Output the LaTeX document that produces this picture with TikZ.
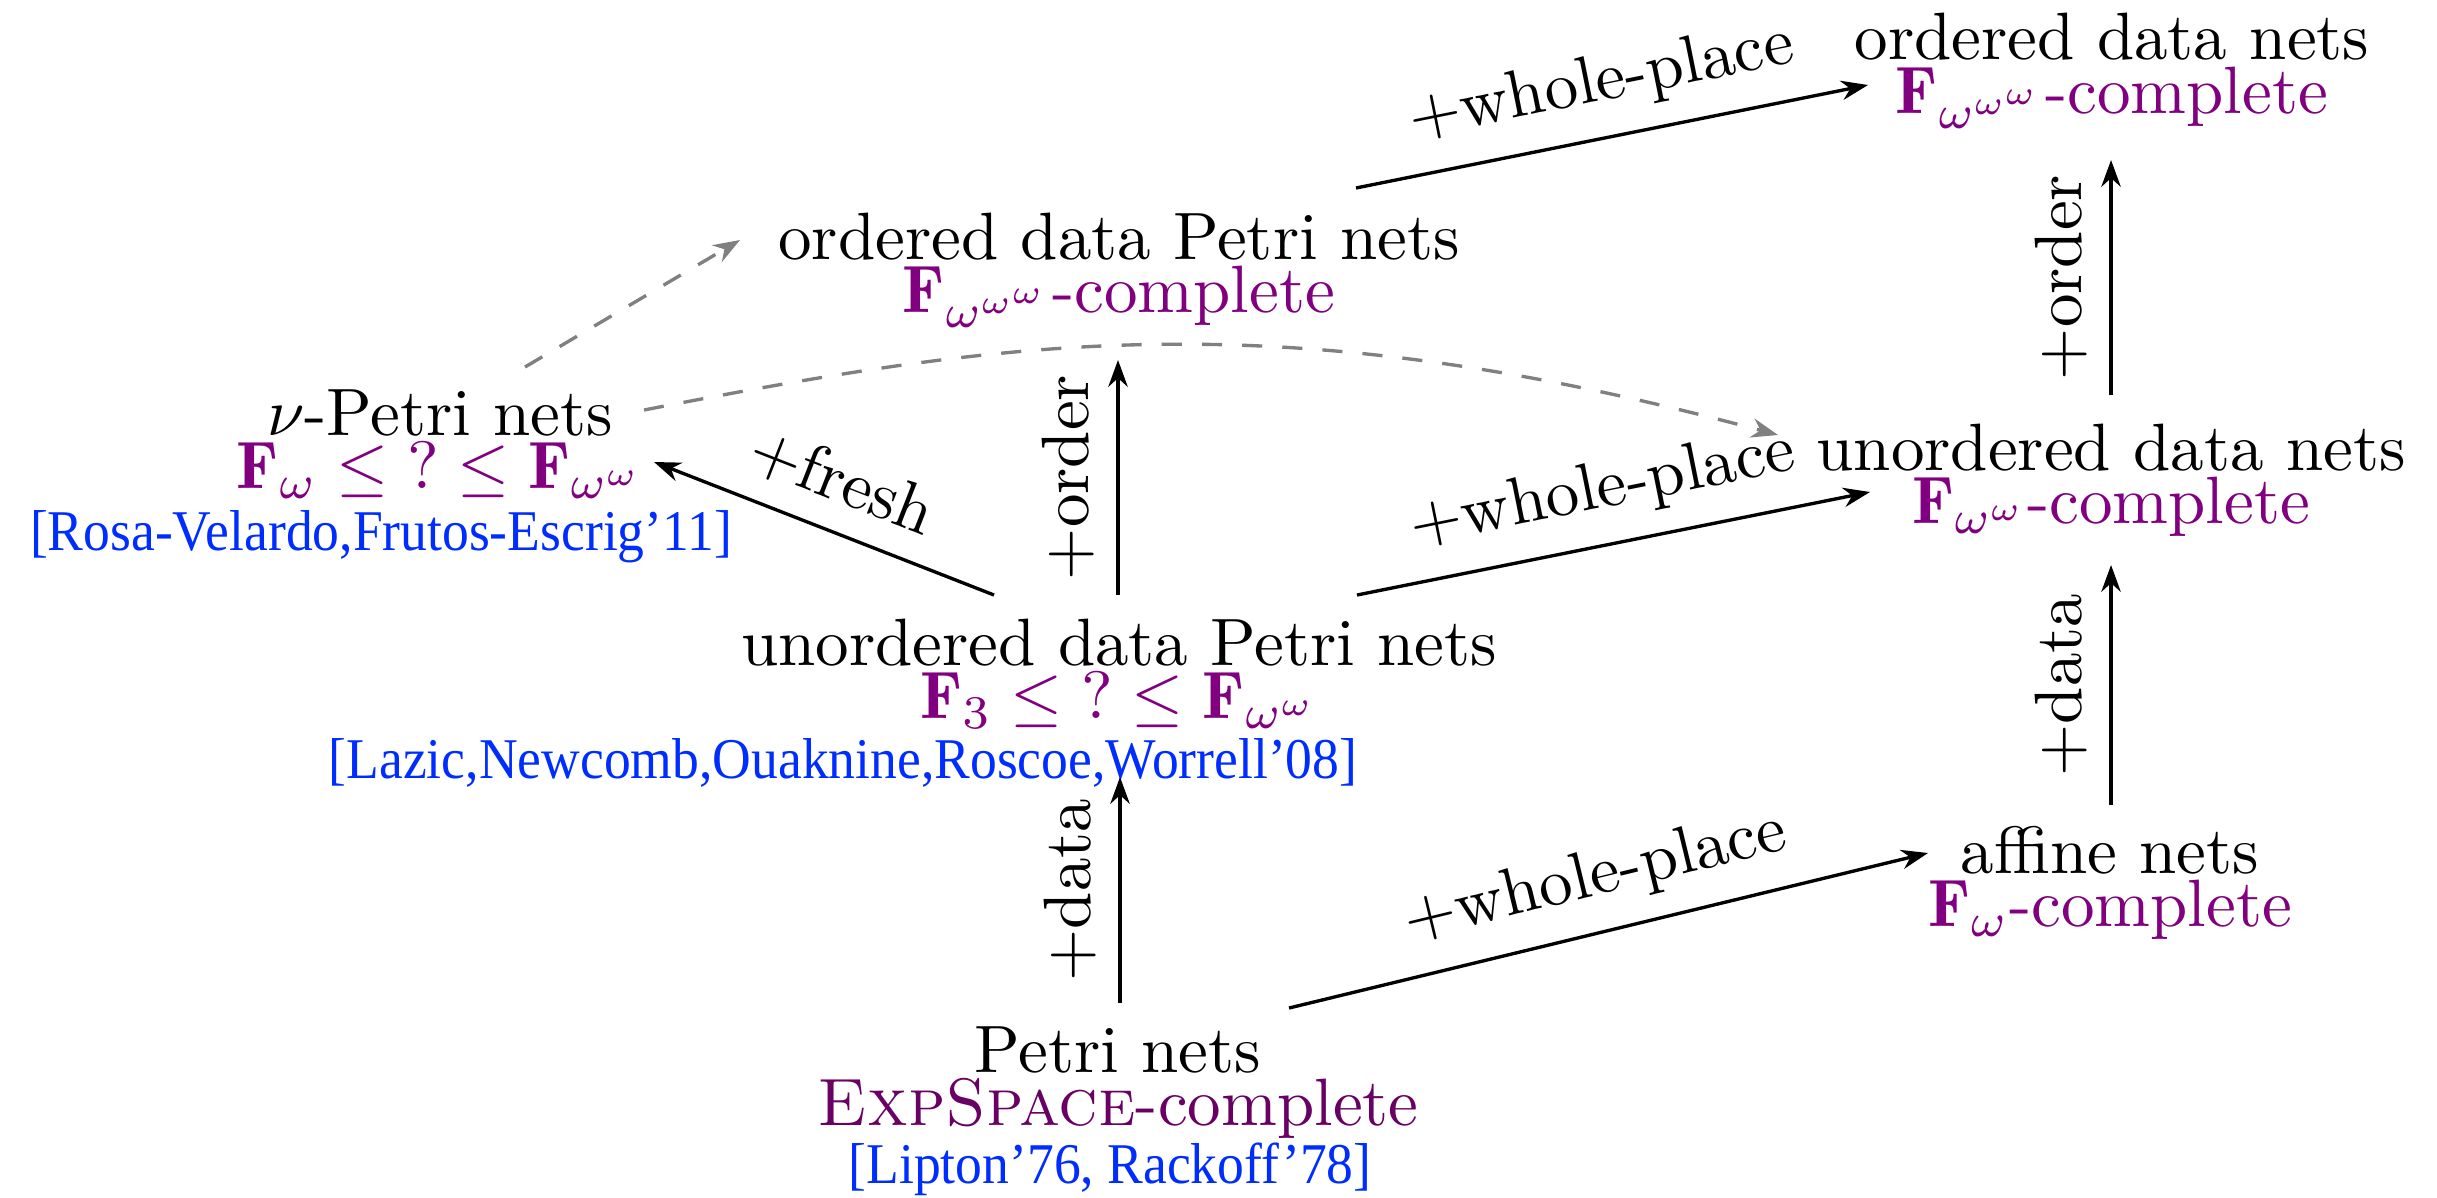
\documentclass[tikz,border=0pt]{standalone}
\usepackage{fontspec}
\usetikzlibrary{arrows.meta}
\newfontfamily\citefont[FakeStretch=0.93]{Liberation Serif}
\definecolor{fpurple}{RGB}{128,0,128}
\definecolor{xpurple}{RGB}{105,0,100}
\definecolor{citeblue}{RGB}{0,45,255}
% two centred lines with tight spacing
\newcommand\twoline[2]{\vtop{\baselineskip=8pt\lineskiplimit=-20pt\lineskip=0pt\halign{\hfil##\hfil\cr#1\cr#2\cr}}}
\newcommand\cls[1]{\textcolor{fpurple}{#1}}

\begin{document}
\begin{tikzpicture}[x=0.14925pt,y=-0.14925pt,
  >={Stealth[length=4pt,width=2.9pt]},
  net/.style={anchor=base,inner sep=0pt,font=\fontsize{10}{8}\selectfont},
  cite/.style={anchor=base,inner sep=0pt,text=citeblue,font=\citefont\fontsize{8.6}{9}\selectfont},
  conn/.style={->,line width=0.5pt},
  dconn/.style={->,dashed,gray,line width=0.5pt},
  lbl/.style={midway,above,sloped,font=\fontsize{10}{12}\selectfont}]
\useasboundingbox (0,0) rectangle (2437,1197);

% complexity classes
\node[net] (odn) at (2112,60) {\twoline{ordered data nets}{\cls{$\mathbf{F}_{\omega^{\omega^{\omega}}}$-complete}}};
\node[net] (odpn) at (1119,259) {\twoline{ordered data Petri nets}{\cls{$\mathbf{F}_{\omega^{\omega^{\omega}}}$-complete}}};
\node[net] (nu) at (440,435) {\twoline{$\nu$-Petri nets}{\cls{$\mathbf{F}_{\omega}\leq{?}\leq\mathbf{F}_{\omega^{\omega}}$}}};
\node[net] (udn) at (2111,470) {\twoline{unordered data nets}{\cls{$\mathbf{F}_{\omega^{\omega}}$-complete}}};
\node[net] (udpn) at (1119,665) {\twoline{unordered data Petri nets}{\cls{$\mathbf{F}_{3}\leq{?}\leq\mathbf{F}_{\omega^{\omega}}$}}};
\node[net] (aff) at (2110,873) {\twoline{affine nets}{\cls{$\mathbf{F}_{\omega}$-complete}}};
\node[net] (pn) at (1118,1072) {\twoline{Petri nets}{\textcolor{xpurple}{\textsc{ExpSpace}-complete}}};

% references
\node[cite] (nucite) at (381,550) {[Rosa-Velardo,Frutos-Escrig’11]};
\node[cite] (udpncite) at (843,778) {[Lazic,Newcomb,Ouaknine,Roscoe,Worrell’08]};
\node[cite] (pncite) at (1110,1183) {[Lipton’76, Rackoff’78]};

% extensions
\draw[conn] ([shift={(2,-69)}]pn.base) -- node[lbl]{+data} ([shift={(1,112)}]udpn.base);
\draw[conn] ([shift={(171,-64)}]pn.base) -- node[lbl]{+whole-place} ([shift={(-182,-20)}]aff.base);
\draw[conn] ([shift={(1,-68)}]aff.base) -- node[lbl]{+data} ([shift={(0,95)}]udn.base);
\draw[conn] ([shift={(0,-75)}]udn.base) -- node[lbl]{+order} ([shift={(-1,100)}]odn.base);
\draw[conn] ([shift={(-1,-70)}]udpn.base) -- node[lbl]{+order} ([shift={(-1,101)}]odpn.base);
\draw[conn] ([shift={(238,-70)}]udpn.base) -- node[lbl]{+whole-place} ([shift={(-241,22)}]udn.base);
\draw[conn] ([shift={(-125,-70)}]udpn.base) -- node[lbl]{+fresh} ([shift={(214,27)}]nu.base);
\draw[conn] ([shift={(237,-71)}]odpn.base) -- node[lbl]{+whole-place} ([shift={(-244,25)}]odn.base);
\draw[dconn] ([shift={(85,-68)}]nu.base) -- ([shift={(-379,-19)}]odpn.base);
\draw[dconn] ([shift={(204,-25)}]nu.base) .. controls +(373,-72.5) and +(-502,-134.6) .. ([shift={(-333,-35)}]udn.base);
\end{tikzpicture}
\end{document}
